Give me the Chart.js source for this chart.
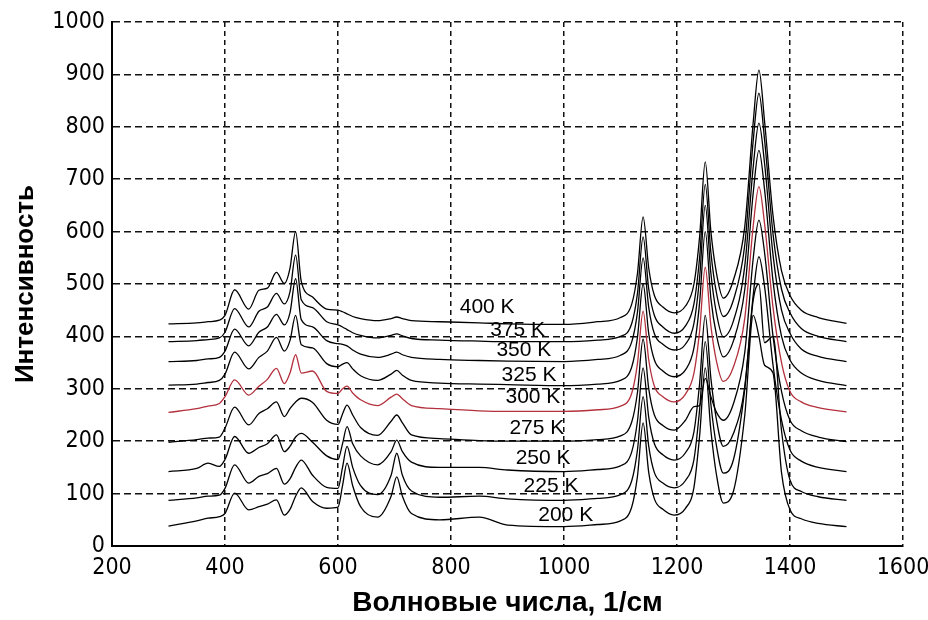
<!DOCTYPE html>
<html>
<head>
<meta charset="utf-8">
<script src="https://cdn.jsdelivr.net/npm/chart.js@4.4.1/dist/chart.umd.min.js"></script>
<style>
html,body{margin:0;padding:0;background:#fff;}
#spec{display:block;}
</style>
</head>
<body>
<canvas id="spec" width="928" height="620"></canvas>
<script>
// wavenumber grid, 1/cm
const wavenumbers=[300,350,370,390,400,417,442,460,475,491,505,515,525,535,555,580,600,608,616,626,640,670,694,704,714,730,780,850,900,
1000,1060,1100,1120,1130,1140,1150,1160,1175,1195,1215,1230,1240,1250,1260,1270,1282,1300,1320,1335,1345,1355,1370,1385,1400,1420,1450,1500];

const t400=[424,426,428,431,440,489,452,488,492,522,501,530,600,505,475,452,450,447,443,438,434,430,434,437,434,430,428,426,424,
423,428,436,462,520,628,530,478,456,445,458,500,590,733,600,520,473,508,610,810,908,810,630,525,478,450,436,425];
const t375=[390,392,394,397,408,453,418,448,456,482,462,485,555,470,455,428,422,418,413,407,402,397,402,405,401,396,393,391,390,
390,393,400,425,482,590,490,440,418,406,420,462,550,690,560,482,438,470,575,775,864,775,595,490,445,415,400,390];
const t350=[352,354,357,360,372,414,382,408,418,442,422,445,510,432,418,392,386,385,382,374,366,360,366,370,365,360,356,354,353,
352,356,364,390,446,550,455,405,385,374,385,425,512,650,520,443,399,430,535,725,807,730,555,450,406,376,362,352];
const t325=[307,309,312,316,328,370,338,360,372,398,372,392,440,384,378,348,342,347,350,338,325,316,328,335,326,316,311,309,308,
306,309,316,342,398,500,405,355,334,323,336,378,464,600,472,402,361,392,490,675,755,680,505,400,355,330,316,306];
const t300=[255,262,267,272,285,317,288,305,318,339,310,330,365,330,334,295,291,300,305,292,279,268,284,290,281,268,262,258,257,
257,260,267,292,348,448,355,305,285,275,290,330,410,532,420,352,314,342,435,612,686,615,455,350,295,275,264,256];
const t275=[198,203,206,208,225,265,231,253,262,275,247,262,275,282,274,240,232,252,269,250,226,211,238,250,235,212,205,201,200,
200,203,210,237,293,395,300,250,230,221,240,266,268,320,285,255,240,272,370,550,622,560,400,295,240,220,208,199];
const t250=[142,148,158,152,165,209,177,188,195,212,180,190,208,215,198,172,165,195,228,195,172,155,180,202,180,160,150,150,145,
142,146,153,180,238,340,245,195,174,164,178,218,310,440,320,240,190,215,305,480,552,495,345,240,183,162,150,142];
const t225=[87,92,95,97,110,155,120,133,138,148,118,128,150,164,135,112,110,150,190,150,115,98,135,177,135,105,93,95,90,
87,91,98,125,183,285,190,140,120,111,125,165,260,390,270,190,139,165,300,470,500,388,400,220,126,104,94,87];
const t200=[38,48,53,56,62,101,69,75,80,88,59,70,95,111,85,72,74,115,158,115,75,55,95,132,95,62,50,55,40,
37,41,48,75,133,235,140,90,70,59,72,112,210,340,220,135,82,105,250,440,400,345,330,140,69,52,43,37];

const tempNames=['400 K','375 K','350 K','325 K','300 K','275 K','250 K','225 K','200 K'];
const series=[t400,t375,t350,t325,t300,t275,t250,t225,t200];

// where the temperature captions sit (data units)
const capX=[864,918,929,938,945,952,963,977,1003];
const capY=[456,412,374,326,284,225,168,115,59];

const xTicks=[200,400,600,800,1000,1200,1400,1600];

const narrow="'Liberation Sans Narrow','DejaVu Sans Condensed','Liberation Sans',Arial,sans-serif";

const datasets=series.map((arr,i)=>({
label:tempNames[i],
data:arr.map((v,j)=>({x:wavenumbers[j],y:v})),
borderColor:tempNames[i]==='300 K'?'#b3303c':'#000',
borderWidth:1.3,
pointRadius:0,
fill:false,
cubicInterpolationMode:'monotone'
}));

const captions={
id:'captions',
afterDatasetsDraw(chart){
const ctx=chart.ctx;
const xs=chart.scales.x, ys=chart.scales.y;
ctx.save();
ctx.font="21px 'Liberation Sans',Arial,sans-serif";
ctx.fillStyle='#000';
ctx.textAlign='center';
ctx.textBaseline='middle';
tempNames.forEach((t,i)=>{
ctx.fillText(t,xs.getPixelForValue(capX[i]),ys.getPixelForValue(capY[i]));
});
ctx.restore();
}
};

new Chart(document.getElementById('spec'),{
type:'line',
data:{datasets:datasets},
options:{
responsive:false,
animation:false,
layout:{padding:{top:22,right:25,left:0,bottom:0}},
plugins:{legend:{display:false},tooltip:{enabled:false}},
scales:{
x:{
type:'linear',
min:200,max:1600,
afterBuildTicks:s=>{s.ticks=xTicks.map(v=>({value:v}));},
afterFit:s=>{s.height=74;s.paddingLeft=0;s.paddingRight=0;},
ticks:{color:'#000',padding:8,font:{family:narrow,size:23},maxRotation:0,callback:v=>String(v)},
grid:{color:'#111',lineWidth:1.5,drawTicks:false},
border:{display:true,color:'#000',width:2,dash:[5,4]},
title:{display:true,text:'Волновые числа, 1/см',color:'#000',
font:{family:"'Liberation Sans',Arial,sans-serif",size:28,weight:'bold'},padding:{top:0,bottom:0}}
},
y:{
min:0,max:1000,
afterFit:s=>{s.width=112;s.paddingTop=0;s.paddingBottom=0;},
ticks:{stepSize:100,color:'#000',padding:7,font:{family:narrow,size:23},callback:v=>String(v)},
grid:{color:'#111',lineWidth:1.5,drawTicks:false},
border:{display:true,color:'#000',width:2,dash:[7,4]},
title:{display:true,text:'Интенсивность',color:'#000',
font:{family:"'Liberation Sans',Arial,sans-serif",size:26,weight:'bold'},padding:{top:10,bottom:0}}
}
}
},
plugins:[captions]
});
</script>
</body>
</html>
